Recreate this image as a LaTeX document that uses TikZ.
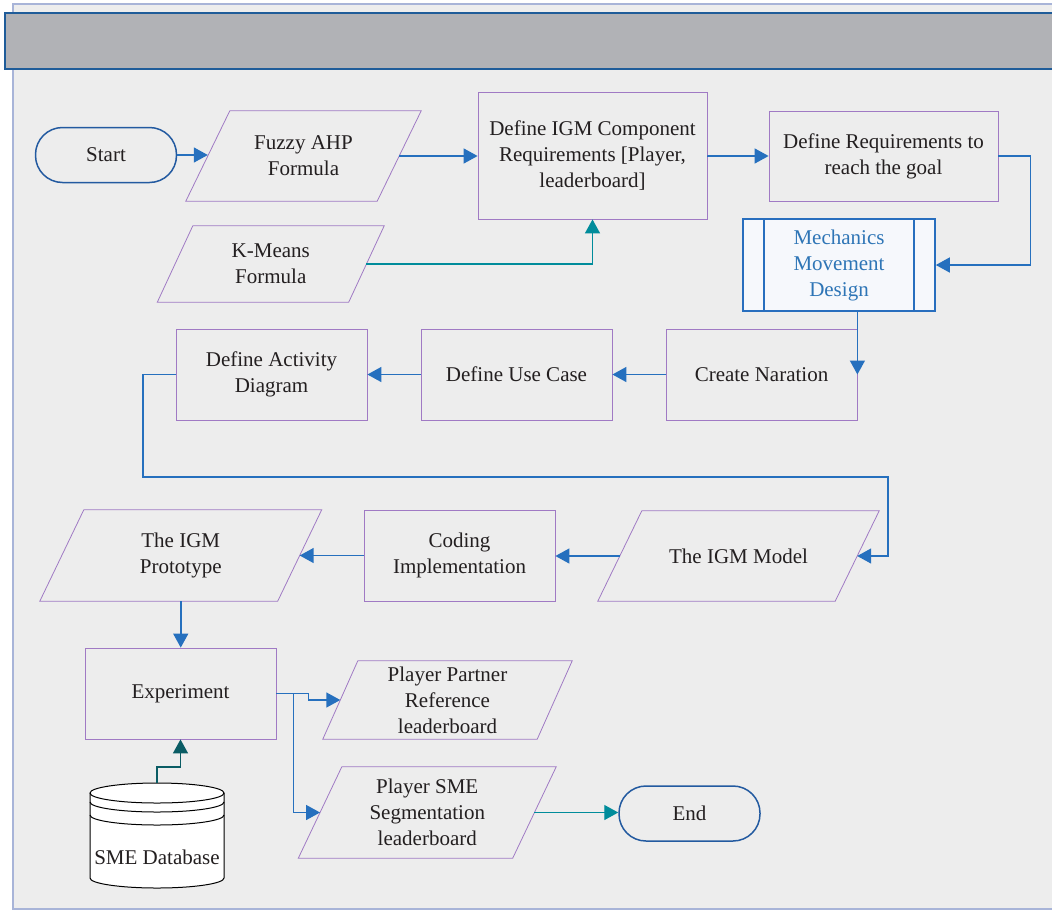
\documentclass[tikz,border=0pt]{standalone}
\usepackage{fontspec}
\setmainfont{Liberation Serif}
\usetikzlibrary{arrows.meta}
\definecolor{bgc}{RGB}{237,237,237}
\definecolor{framec}{RGB}{168,180,216}
\definecolor{headfill}{RGB}{177,178,182}
\definecolor{headline}{RGB}{31,92,153}
\definecolor{purp}{RGB}{160,122,196}
\definecolor{arrblue}{RGB}{38,112,190}
\definecolor{tealc}{RGB}{0,140,155}
\definecolor{dteal}{RGB}{10,92,100}
\definecolor{termc}{RGB}{35,90,160}
\definecolor{mechc}{RGB}{40,110,190}
\definecolor{mechfill}{RGB}{246,248,252}
\definecolor{mechtext}{RGB}{46,117,182}
\definecolor{txtc}{RGB}{35,31,32}
\newcommand\paradraw[2]{\draw[paraline] ([xshift=#2]#1.north west) -- ([xshift=#2]#1.north east) -- ([xshift=-#2]#1.south east) -- ([xshift=-#2]#1.south west) -- cycle;}
\begin{document}
\begin{tikzpicture}[x=1pt,y=-1pt,
  base/.style={inner sep=0pt, align=center, text=txtc, font=\fontsize{21}{26}\selectfont},
  box/.style={base, rectangle, draw=purp, line width=0.8pt},
  para/.style={base, rectangle},
  paraline/.style={draw=purp, line width=0.8pt},
  term/.style={base, rectangle, rounded corners=27pt, draw=termc, line width=1.5pt, minimum width=141pt, minimum height=55pt},
  mechbox/.style={base, rectangle, draw=mechc, line width=1.6pt, fill=mechfill, text=mechtext},
  conn/.style={draw=arrblue, line width=1.5pt, -{Triangle[length=14pt,width=15pt]}},
  tconn/.style={draw=tealc, line width=1.4pt, -{Triangle[length=14pt,width=15pt]}},
  dconn/.style={draw=dteal, line width=1.4pt, -{Triangle[length=14pt,width=15pt]}},
  dbline/.style={draw=black, line width=1pt}
]
\useasboundingbox (0,0) rectangle (1052,911);
\fill[white] (0,0) rectangle (1052,911);
\draw[draw=framec, line width=2pt, fill=bgc] (13,4) rectangle (1075,909);
\draw[draw=headline, line width=1.5pt, fill=headfill] (5,13) rectangle (1075,69);

% nodes
\node[term] (start) at (106,155) {Start};
\node[para, minimum width=191pt, minimum height=90pt] (fuzzy) at (303.5,156) {Fuzzy AHP\\Formula};
\paradraw{fuzzy}{22pt}
\node[box, minimum width=229pt, minimum height=127pt] (defigm) at (592.5,155.5) {Define IGM Component\\Requirements [Player,\\leaderboard]};
\node[box, minimum width=229pt, minimum height=90pt] (defreq) at (883.5,156) {Define Requirements to\\reach the goal};
\node[para, minimum width=191pt, minimum height=76pt] (kmeans) at (270.75,264) {K-Means\\Formula};
\paradraw{kmeans}{17.75pt}
\node[mechbox, minimum width=192pt, minimum height=92pt] (mech) at (839,265) {Mechanics\\Movement\\Design};
\draw[draw=mechc, line width=1.6pt] ([xshift=22pt]mech.north west) -- ([xshift=22pt]mech.south west);
\draw[draw=mechc, line width=1.6pt] ([xshift=-22pt]mech.north east) -- ([xshift=-22pt]mech.south east);
\node[box, minimum width=191pt, minimum height=91pt] (createnar) at (761.5,374.5) {Create Naration};
\node[box, minimum width=191pt, minimum height=91pt] (usecase) at (516.5,374.5) {Define Use Case};
\node[box, minimum width=191pt, minimum height=91pt] (activity) at (271.5,374.5) {Define Activity\\Diagram};
\node[para, minimum width=237pt, minimum height=90pt] (igmmodel) at (738.5,556) {The IGM Model};
\paradraw{igmmodel}{22pt}
\node[box, minimum width=191pt, minimum height=91pt] (coding) at (459.5,555.5) {Coding\\Implementation};
\node[para, minimum width=237.5pt, minimum height=91pt] (proto) at (180.75,555.5) {The IGM\\Prototype};
\paradraw{proto}{22pt}
\node[box, minimum width=191pt, minimum height=91pt] (experiment) at (180.5,693.5) {Experiment};
\node[para, minimum width=214pt, minimum height=78pt] (partner) at (447.5,700) {Player Partner\\Reference\\leaderboard};
\paradraw{partner}{17.5pt}
\node[para, minimum width=214pt, minimum height=91pt] (sme) at (427.25,812.5) {Player SME\\Segmentation\\leaderboard};
\paradraw{sme}{21.75pt}
\node[term] (end) at (689.5,813.5) {End};

% database
\node[rectangle, inner sep=0pt, minimum width=134pt, minimum height=105pt] (db) at (157,835.5) {};
\draw[dbline, fill=white] (90,793) -- (90,878) arc[start angle=180, end angle=360, x radius=67pt, y radius=10pt] -- (224,793) arc[start angle=0, end angle=180, x radius=67pt, y radius=10pt] -- cycle;
\draw[dbline] (90,793) arc[start angle=180, end angle=360, x radius=67pt, y radius=10pt];
\draw[dbline] (90,802) arc[start angle=180, end angle=360, x radius=67pt, y radius=10pt];
\draw[dbline] (90,815) arc[start angle=180, end angle=360, x radius=67pt, y radius=10pt];
\node[base] (dbtext) at (157,857) {SME Database};

% connectors
\coordinate (bendA) at (143,477);
\coordinate (bendB) at (888,477);
\draw[conn] (start.east) -- (start.east -| fuzzy.west);
\draw[conn] (fuzzy.east) -- (fuzzy.east -| defigm.west);
\draw[conn] (defigm.east) -- (defigm.east |- defreq.west) -- (defreq.west);
\draw[tconn] (kmeans.east) -| (defigm.south);
\draw[conn] (defreq.east) -- ++(32,0) |- (mech.east);
\draw[conn] (mech.south -| createnar.east) -- (createnar.east);
\draw[conn] (createnar.west) -- (usecase.east);
\draw[conn] (usecase.west) -- (activity.east);
\draw[conn] (activity.west) -| (bendA) -- (bendB) |- (igmmodel.east);
\draw[conn] (igmmodel.west) -- (igmmodel.west -| coding.east);
\draw[conn] (coding.west) -- (coding.west -| proto.east);
\draw[conn] (proto.south) -- (proto.south |- experiment.north);
\draw[conn] (experiment.east) -- ++(32,0) |- (partner.west);
\draw[conn] (experiment.east) -- ++(17,0) |- (sme.west);
\draw[tconn] (sme.east) -- (sme.east -| end.west);
\draw[dconn] (db.north) -- ++(0,-16) -| (experiment.south);
\end{tikzpicture}
\end{document}
